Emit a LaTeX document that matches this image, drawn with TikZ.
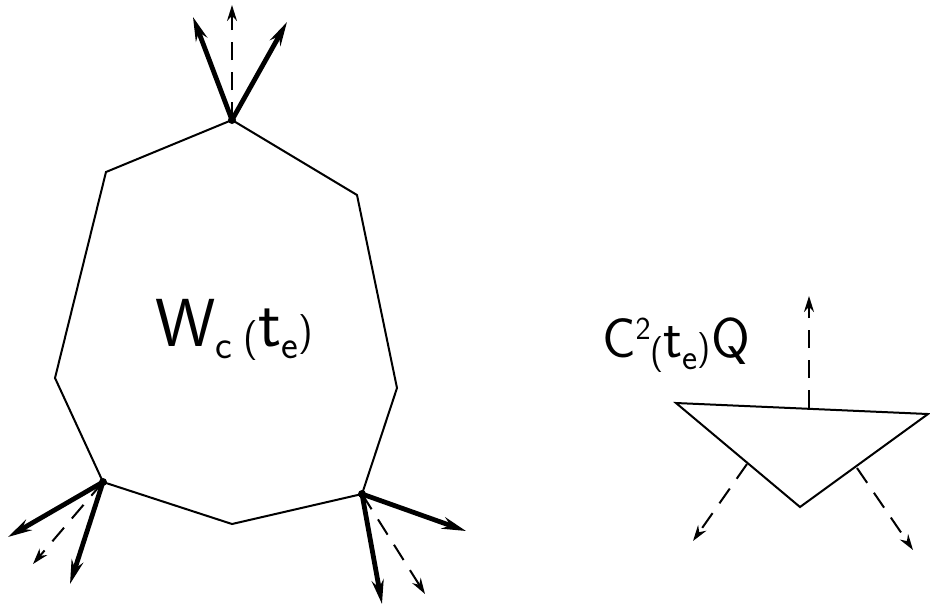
\documentclass[tikz,border=0pt]{standalone}
\usepackage{tikz}
\usetikzlibrary{arrows.meta}

\begin{document}
\begin{tikzpicture}[x=0.5pt, y=-0.5pt, font=\sffamily,
  edge/.style={draw=black, line width=1pt, line join=miter},
  thick arr/.style={-{Stealth[length=12pt, width=6pt]}, line width=2.4pt},
  dash arr/.style={-{Stealth[length=8pt, width=5pt]}, line width=1pt, dash pattern=on 9pt off 6pt},
  vdot/.style={circle, fill=black, inner sep=0pt, minimum size=4pt}]
\useasboundingbox (0,0) rectangle (930,612);
% polygon W
\coordinate (top) at (232,120);
\coordinate (ul) at (106,172);
\coordinate (l) at (55,378);
\coordinate (ll) at (103,482);
\coordinate (b) at (232,524);
\coordinate (lr) at (362,494);
\coordinate (r) at (397,388);
\coordinate (ur) at (357,195);
\draw[edge] (top) -- (ul) -- (l) -- (ll) -- (b) -- (lr) -- (r) -- (ur) -- cycle;
\node[vdot] at (top) {};
\node[vdot] at (ll) {};
\node[vdot] at (lr) {};
\node (wlab) at (234,330) {\fontsize{34}{40}\selectfont W\raisebox{-6pt}{\fontsize{20}{24}\selectfont c}\,\raisebox{-2pt}{\fontsize{20}{24}\selectfont(}t\raisebox{-6pt}{\fontsize{20}{24}\selectfont e}\raisebox{1pt}{\fontsize{20}{24}\selectfont)}};
% arrows at top vertex
\coordinate (t1) at (193,17);
\coordinate (t2) at (287,22);
\coordinate (t3) at (232,5);
\draw[thick arr] (top) -- (t1);
\draw[thick arr] (top) -- (t2);
\draw[dash arr] (top) -- (t3);
% arrows at lower left vertex
\coordinate (a1) at (8,537);
\coordinate (a2) at (70,584);
\coordinate (a3) at (33,564);
\draw[thick arr] (ll) -- (a1);
\draw[thick arr] (ll) -- (a2);
\draw[dash arr] (ll) -- (a3);
% arrows at lower right vertex
\coordinate (c1) at (466,531);
\coordinate (c2) at (382,604);
\coordinate (c3) at (425,594);
\draw[thick arr] (lr) -- (c1);
\draw[thick arr] (lr) -- (c2);
\draw[dash arr] (lr) -- (c3);
% triangle Q
\coordinate (ql) at (676,403);
\coordinate (qr) at (928,414);
\coordinate (qb) at (800,507);
\draw[edge] (ql) -- (qr) -- (qb) -- cycle;
\coordinate (qm) at (809,408);
\coordinate (q1) at (747,464);
\coordinate (q2) at (857,468);
\draw[dash arr] (qm) -- (809,296);
\draw[dash arr] (q1) -- (693,541);
\draw[dash arr] (q2) -- (913,550);
\node (qlab) at (676,345) {\fontsize{28}{34}\selectfont C\raisebox{9pt}{\fontsize{16}{20}\selectfont 2}\raisebox{-3pt}{\fontsize{18}{22}\selectfont(}t\raisebox{-6pt}{\fontsize{18}{22}\selectfont e}\raisebox{-1pt}{\fontsize{18}{22}\selectfont)}Q};
\end{tikzpicture}
\end{document}
